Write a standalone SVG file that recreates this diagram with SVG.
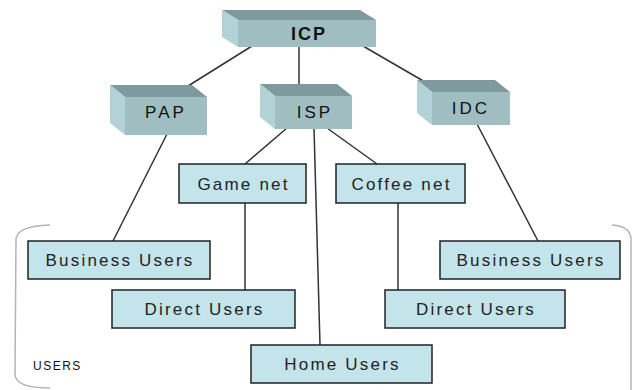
<svg xmlns="http://www.w3.org/2000/svg" width="634" height="390" viewBox="0 0 634 390">
  <style>
    .link { stroke: #333; stroke-width: 1.5; fill: none; }
    .bracket { stroke: #b4b4b4; stroke-width: 1.5; fill: none; }
    .top { fill: #7f9a9e; }
    .side { fill: #b2d2d7; }
    .front { fill: #a0bdc2; }
    .box3d-label { font-family: "Liberation Sans", Arial, sans-serif; font-size: 17px; letter-spacing: 3px; fill: #111; text-anchor: middle; }
    .box { fill: #c3e4ea; stroke: #222; stroke-width: 1.5; }
    .label { font-family: "Liberation Sans", Arial, sans-serif; font-size: 17px; letter-spacing: 2.2px; fill: #222; text-anchor: middle; }
    .group-label { font-family: "Liberation Sans", Arial, sans-serif; font-size: 12px; letter-spacing: 1.5px; fill: #111; }
  </style>
  <rect width="634" height="390" fill="#ffffff"/>

  <!-- user group brackets -->
  <g id="users-group">
    <path class="bracket" d="M50,225 Q16,226 16,240 L15,374 Q15,388 50,388"/>
    <path class="bracket" d="M612,225 Q631,226 631,240 L631,390"/>
    <text class="group-label" x="33" y="370">USERS</text>
  </g>

  <!-- connectors -->
  <g id="connectors">
    <line class="link" x1="252" y1="46" x2="188" y2="86"/>
    <line class="link" x1="299" y1="46" x2="299" y2="85"/>
    <line class="link" x1="363" y1="46" x2="425" y2="82"/>
    <line class="link" x1="167" y1="134" x2="113" y2="241"/>
    <line class="link" x1="287" y1="128" x2="245" y2="164"/>
    <line class="link" x1="314" y1="128" x2="320" y2="345"/>
    <line class="link" x1="327" y1="128" x2="377" y2="164"/>
    <line class="link" x1="245" y1="203" x2="245" y2="290"/>
    <line class="link" x1="398" y1="203" x2="398" y2="290"/>
    <line class="link" x1="477" y1="124" x2="538" y2="241"/>
  </g>

  <!-- 3D blocks -->
  <g id="icp">
    <polygon class="top" points="222,10 360,10 376,20 238,20"/>
    <polygon class="side" points="222,10 238,20 238,47 222,37"/>
    <rect class="front" x="238" y="20" width="138" height="27"/>
    <text class="box3d-label" x="309" y="40" style="font-size:18px;font-weight:bold;letter-spacing:2px">ICP</text>
  </g>
  <g id="pap">
    <polygon class="top" points="110,85 192,85 207,97 125,97"/>
    <polygon class="side" points="110,85 125,97 125,135 110,123"/>
    <rect class="front" x="125" y="97" width="82" height="38"/>
    <text class="box3d-label" x="166" y="118">PAP</text>
  </g>
  <g id="isp">
    <polygon class="top" points="260,84 337,84 352,96 275,96"/>
    <polygon class="side" points="260,84 275,96 275,129 260,117"/>
    <rect class="front" x="275" y="96" width="77" height="33"/>
    <text class="box3d-label" x="315" y="118">ISP</text>
  </g>
  <g id="idc">
    <polygon class="top" points="417,80 495,80 510,92 432,92"/>
    <polygon class="side" points="417,80 432,92 432,125 417,113"/>
    <rect class="front" x="432" y="92" width="78" height="33"/>
    <text class="box3d-label" x="471" y="114">IDC</text>
  </g>

  <!-- flat nodes -->
  <g id="game-net">
    <rect class="box" x="179" y="164" width="127" height="39"/>
    <text class="label" x="243.5" y="190">Game net</text>
  </g>
  <g id="coffee-net">
    <rect class="box" x="336" y="164" width="129" height="39"/>
    <text class="label" x="401.5" y="190">Coffee net</text>
  </g>
  <g id="business-users-left">
    <rect class="box" x="28" y="241" width="182" height="38"/>
    <text class="label" x="120" y="266">Business Users</text>
  </g>
  <g id="business-users-right">
    <rect class="box" x="440" y="241" width="180" height="38"/>
    <text class="label" x="531" y="266">Business Users</text>
  </g>
  <g id="direct-users-left">
    <rect class="box" x="112" y="290" width="183" height="38"/>
    <text class="label" x="204.5" y="315">Direct Users</text>
  </g>
  <g id="direct-users-right">
    <rect class="box" x="385" y="290" width="180" height="38"/>
    <text class="label" x="476" y="315">Direct Users</text>
  </g>
  <g id="home-users">
    <rect class="box" x="251" y="345" width="181" height="38"/>
    <text class="label" x="342.5" y="370">Home Users</text>
  </g>
</svg>
